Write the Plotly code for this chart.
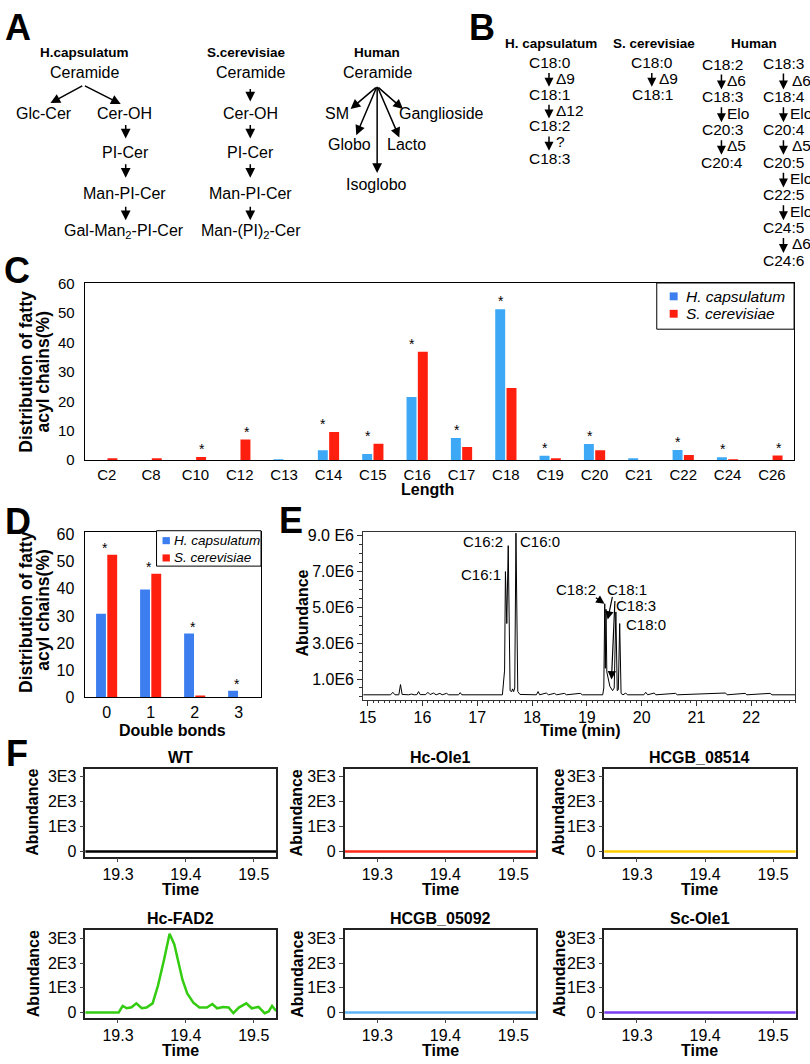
import plotly.graph_objects as go

W, H = 810, 1064
FONT = "Arial, 'Liberation Sans', sans-serif"

# ---------------- data ----------------
lengths = ["C2", "C8", "C10", "C12", "C13", "C14", "C15", "C16", "C17", "C18",
           "C19", "C20", "C21", "C22", "C24", "C26"]
hc_length = [0, 0, 0, 0, 0.1, 3.4, 2.1, 21.4, 7.5, 51.2, 1.5, 5.5, 0.5, 3.5, 1.0, 0]
sc_length = [0.4, 0.6, 1.1, 7.0, 0, 9.6, 5.6, 36.8, 4.5, 24.5, 0.7, 3.4, 0, 1.8, 0.2, 1.6]
length_sig = ["C10", "C12", "C14", "C15", "C16", "C17", "C18", "C19", "C20", "C22", "C24", "C26"]

bonds = ["0", "1", "2", "3"]
hc_bonds = [30.8, 39.8, 23.5, 2.4]
sc_bonds = [52.6, 45.6, 0.6, 0]
bonds_sig = ["0", "1", "2", "3"]

species = ["H. capsulatum", "S. cerevisiae"]

# GC chromatogram (abundance in units of 1E6)
gc_time = [14.92, 15.30, 15.42, 15.46, 15.50, 15.57, 15.60, 15.63, 15.75, 15.80, 15.85,
           15.90, 15.93, 15.96, 16.06, 16.10, 16.14, 16.20, 16.25, 16.32, 16.36, 16.44,
           16.48, 16.66, 16.69, 16.72, 17.46, 17.50, 17.515, 17.54, 17.566, 17.60, 17.63,
           17.645, 17.665, 17.685, 17.707, 17.74, 17.78, 18.08, 18.11, 18.14, 18.26, 18.30,
           18.41, 18.45, 18.59, 18.63, 18.88, 18.92, 19.29, 19.31, 19.327, 19.338, 19.35,
           19.365, 19.39, 19.42, 19.47, 19.50, 19.53, 19.555, 19.575, 19.60, 19.625, 19.66,
           19.71, 19.74, 20.04, 20.075, 20.11, 20.23, 20.26, 20.62, 20.65, 21.53, 21.56,
           21.89, 21.92, 22.345, 22.38, 22.80]
gc_abund = [0.12, 0.12, 0.12, 0.26, 0.12, 0.12, 0.69, 0.14, 0.12, 0.16, 0.12,
            0.13, 0.30, 0.13, 0.13, 0.26, 0.13, 0.22, 0.12, 0.20, 0.12, 0.20,
            0.12, 0.12, 0.24, 0.12, 0.12, 1.5, 7.0, 4.1, 8.45, 0.35, 0.30,
            0.45, 0.30, 0.5, 9.15, 0.3, 0.14, 0.12, 0.30, 0.12, 0.22, 0.12,
            0.20, 0.12, 0.20, 0.12, 0.20, 0.12, 0.12, 0.5, 5.2, 1.6, 4.9,
            1.4, 1.0, 0.6, 0.35, 0.5, 4.75, 0.35, 0.4, 4.1, 0.2, 0.12,
            0.22, 0.12, 0.12, 0.26, 0.12, 0.22, 0.12, 0.20, 0.12, 0.22, 0.12,
            0.20, 0.12, 0.20, 0.12, 0.12]
e_ticks = [1, 3, 5, 7, 9]
e_ticktext = ["1.0E6", "3.0E6", "5.0E6", "7.0E6", "9.0 E6"]

strains = ["WT", "Hc-Ole1", "HCGB_08514", "Hc-FAD2", "HCGB_05092", "Sc-Ole1"]
strain_colors = ["#000000", "#ff2a1a", "#ffcc00", "#33cc11", "#5fb4f5", "#7a3cf0"]
flat_time = [19.25, 19.54]
flat_abund = [0, 0]
fad2_time = [19.25, 19.301, 19.307, 19.313, 19.320, 19.327, 19.335, 19.342, 19.351, 19.359,
             19.368, 19.376, 19.383, 19.389, 19.395, 19.402, 19.411, 19.420, 19.431, 19.439,
             19.446, 19.455, 19.463, 19.470, 19.478, 19.489, 19.497, 19.507, 19.516, 19.522,
             19.527, 19.533]
fad2_abund = [0, 0, 265, 170, 210, 370, 170, 200, 370, 1100,
              2160, 3200, 2760, 2030, 1330, 770, 400, 200, 200, 345,
              170, 225, 200, -30, 200, 370, 170, 225, -30, 40,
              265, 65]
f_ticks = [0, 1000, 2000, 3000]
f_ticktext = ["0", "1E3", "2E3", "3E3"]

# ---------------- helpers ----------------
def X(px):
    return px / W


def Y(py):
    return 1 - py / H


ann = []
shapes = []


def txt(s, x, y, size=16, bold=False, italic=False, xanchor="center", yanchor="middle", angle=0):
    ann.append(dict(text=s, x=X(x), y=Y(y), xref="paper", yref="paper", showarrow=False,
                    xanchor=xanchor, yanchor=yanchor, textangle=angle,
                    font=dict(size=size, family=FONT, color="black",
                              weight="bold" if bold else "normal",
                              style="italic" if italic else "normal")))


def arr(x0, y0, x1, y1, w=1.5, size=1.0, head=2):
    ann.append(dict(x=X(x1), y=Y(y1), xref="paper", yref="paper",
                    ax=x0 - x1, ay=y0 - y1, axref="pixel", ayref="pixel",
                    text="", showarrow=True, arrowhead=head, arrowsize=size,
                    arrowwidth=w, arrowcolor="black", standoff=0, startstandoff=0))


def rect(x0, y0, x1, y1, fill, line_color=None, lw=0):
    shapes.append(dict(type="rect", xref="paper", yref="paper",
                       x0=X(x0), x1=X(x1), y0=Y(y1), y1=Y(y0),
                       fillcolor=fill,
                       line=dict(color=line_color or fill, width=lw)))


def box_axis(**kw):
    base = dict(showline=True, mirror=True, linecolor="black", linewidth=1,
                showgrid=False, zeroline=False, ticks="",
                tickfont=dict(size=15, family=FONT, color="black"))
    base.update(kw)
    return base


fig = go.Figure()

# ---------------- panel C ----------------
C_BLUE = "#3da8f5"
D_BLUE = "#3c7ef0"
RED = "#ff1f0f"
fig.add_trace(go.Bar(x=lengths, y=hc_length, name=species[0], marker_color=C_BLUE,
                     marker_line_width=0, xaxis="x", yaxis="y", showlegend=False))
fig.add_trace(go.Bar(x=lengths, y=sc_length, name=species[1], marker_color=RED,
                     marker_line_width=0, xaxis="x", yaxis="y", showlegend=False))

for cat in length_sig:
    i = lengths.index(cat)
    top = max(hc_length[i], sc_length[i])
    ann.append(dict(text="*", x=cat, y=top, xref="x", yref="y", showarrow=False,
                    yanchor="bottom", xshift=(-5 if hc_length[i] > 0 else 7), yshift=-2,
                    font=dict(size=14, family=FONT, color="black")))

# legend of C (drawn as a key box)
rect(656, 278.7, 794, 325.7, "white", "black", 1)
rect(669, 288.3, 677, 296.3, D_BLUE)
rect(669, 306, 677, 314, RED)
txt(species[0], 683.5, 292.3, 15.5, italic=True, xanchor="left")
txt(species[1], 683.5, 310, 15.5, italic=True, xanchor="left")

# ---------------- panel D ----------------
fig.add_trace(go.Bar(x=bonds, y=hc_bonds, name=species[0], marker_color=D_BLUE,
                     marker_line_width=0, xaxis="x2", yaxis="y2", showlegend=False))
fig.add_trace(go.Bar(x=bonds, y=sc_bonds, name=species[1], marker_color=RED,
                     marker_line_width=0, xaxis="x2", yaxis="y2", showlegend=False))
for cat in bonds_sig:
    i = bonds.index(cat)
    top = max(hc_bonds[i], sc_bonds[i])
    ann.append(dict(text="*", x=cat, y=top, xref="x2", yref="y2", showarrow=False,
                    yanchor="bottom", xshift=-2, yshift=-3,
                    font=dict(size=14, family=FONT, color="black")))

rect(153.3, 530.7, 258.3, 566.7, "white", "black", 1)
rect(159.3, 537.2, 166.7, 544.4, D_BLUE)
rect(159.3, 554.8, 166.7, 562, RED)
txt(species[0], 168.8, 540.7, 13.5, italic=True, xanchor="left")
txt(species[1], 168.8, 558.3, 13.5, italic=True, xanchor="left")

# ---------------- panel E ----------------
fig.add_trace(go.Scatter(x=gc_time, y=gc_abund, mode="lines", line=dict(color="black", width=1),
                         xaxis="x3", yaxis="y3", showlegend=False))

# ---------------- panel F ----------------
f_cols = [(81.8, 273.5), (342.3, 534.5), (603.3, 795.5)]
f_rows = [(772.7, 862.3), (937.3, 1026.0)]
for k, name in enumerate(strains):
    ax_id = k + 4
    if name == "Hc-FAD2":
        tx, ty = fad2_time, fad2_abund
    else:
        tx, ty = flat_time, flat_abund
    fig.add_trace(go.Scatter(x=tx, y=ty, mode="lines", name=name,
                             line=dict(color=strain_colors[k], width=2.5),
                             xaxis=f"x{ax_id}", yaxis=f"y{ax_id}", showlegend=False))

# ---------------- layout axes ----------------
layout_axes = {}
layout_axes["xaxis"] = box_axis(domain=[X(81), X(794)], anchor="y", range=[-0.5, 15.5],
                                type="category", ticklabelstandoff=1)
layout_axes["yaxis"] = box_axis(domain=[Y(459), Y(279)], anchor="x", range=[0, 60],
                                tick0=0, dtick=10, ticklabelstandoff=6)
layout_axes["xaxis2"] = box_axis(domain=[X(81), X(258)], anchor="y2", range=[-0.5, 3.5],
                                 type="category", ticklabelstandoff=1,
                                 tickfont=dict(size=16, family=FONT, color="black"))
layout_axes["yaxis2"] = box_axis(domain=[Y(700), Y(532)], anchor="x2", range=[0, 61],
                                 tick0=0, dtick=10, ticklabelstandoff=6,
                                 tickfont=dict(size=16, family=FONT, color="black"))
layout_axes["xaxis3"] = box_axis(domain=[X(361), X(795)], anchor="y3", range=[14.92, 22.80],
                                 tick0=15, dtick=1, ticks="outside", ticklen=5, linecolor="#333",
                                 tickcolor="#333", ticklabelstandoff=-2,
                                 minor=dict(ticks="outside", ticklen=2, dtick=0.1, tick0=15,
                                            tickcolor="#333"),
                                 tickfont=dict(size=16, family=FONT, color="black"))
layout_axes["yaxis3"] = box_axis(domain=[Y(702.7), Y(531.5)], anchor="x3", range=[-0.16, 9.24],
                                 tickmode="array", tickvals=e_ticks, ticktext=e_ticktext,
                                 ticks="outside", ticklen=5, linecolor="#333", tickcolor="#333",
                                 minor=dict(ticks="outside", ticklen=3, dtick=0.5, tick0=0,
                                            tickmode="linear", tickcolor="#333"),
                                 tickfont=dict(size=16, family=FONT, color="black"))
for k in range(6):
    ax_id = k + 4
    c0, c1 = f_cols[k % 3]
    r0, r1 = f_rows[k // 3]
    layout_axes[f"xaxis{ax_id}"] = box_axis(domain=[X(c0), X(c1)], anchor=f"y{ax_id}",
                                            range=[19.252, 19.533], tickmode="array",
                                            tickvals=[19.3, 19.4, 19.5],
                                            ticktext=["19.3", "19.4", "19.5"],
                                            ticks="outside", ticklen=4, linewidth=1.5,
                                            linecolor="#222", ticklabelstandoff=-2,
                                            tickfont=dict(size=16, family=FONT, color="black"))
    layout_axes[f"yaxis{ax_id}"] = box_axis(domain=[Y(r1), Y(r0)], anchor=f"x{ax_id}",
                                            range=[-210, 3330], tickmode="array",
                                            tickvals=f_ticks, ticktext=f_ticktext,
                                            ticks="outside", ticklen=4, linewidth=1.5,
                                            linecolor="#222",
                                            tickfont=dict(size=16, family=FONT, color="black"))

# ---------------- panel A (diagram) ----------------
A_SIZE = 1.3
txt("A", 14.5, 19, 36, bold=True)
txt("H.capsulatum", 80.8, 44.3, 13.5, bold=True)
txt("Ceramide", 80.8, 64.3)
arr(80, 77.7, 46.7, 95.7, size=A_SIZE)
arr(80, 77.7, 117.3, 96.7, size=A_SIZE)
txt("Glc-Cer", 40, 106)
txt("Cer-OH", 121.3, 106)
arr(122.3, 116.7, 122.3, 131.7, size=A_SIZE)
txt("PI-Cer", 122.3, 145.7)
arr(122.3, 156.7, 122.3, 171.7, size=A_SIZE)
txt("Man-PI-Cer", 121, 187.3)
arr(122.3, 200, 122.3, 215, size=A_SIZE)
txt("Gal-Man<sub>2</sub>-PI-Cer", 121, 226.7)

txt("S.cerevisiae", 243.7, 44.3, 13.5, bold=True)
txt("Ceramide", 248, 64.3)
arr(247.5, 80, 247.5, 94, size=A_SIZE)
txt("Cer-OH", 248, 106)
arr(247.5, 116.7, 247.5, 131.7, size=A_SIZE)
txt("PI-Cer", 248, 145.7)
arr(247.5, 156.7, 247.5, 171.7, size=A_SIZE)
txt("Man-PI-Cer", 248, 187.3)
arr(247.5, 200, 247.5, 215, size=A_SIZE)
txt("Man-(PI)<sub>2</sub>-Cer", 248.3, 226.7)

txt("Human", 375, 44.3, 13.5, bold=True)
txt("Ceramide", 375, 64.3)
arr(375, 79, 348.3, 101.7, size=A_SIZE)
arr(375, 79, 354, 128.3, size=A_SIZE)
arr(375, 79, 375, 166.7, size=A_SIZE)
arr(375, 79, 397.3, 130.7, size=A_SIZE)
arr(375, 79, 401, 101.7, size=A_SIZE)
txt("SM", 334.7, 106)
txt("Globo", 347.5, 137.7)
txt("Lacto", 383.3, 137.7, xanchor="left")
txt("Isoglobo", 374.7, 179)
txt("Ganglioside", 395.3, 106, xanchor="left")

# ---------------- panel B (pathways) ----------------
txt("B", 480.8, 19, 36, bold=True)
txt("H. capsulatum", 550, 35, 13.5, bold=True)
txt("S. cerevisiae", 653.3, 35, 13.5, bold=True)
txt("Human", 753.8, 35, 13.5, bold=True)


def pathway(center, arrow_x, label_x, rows, mids, mid_labels, label_offsets=None):
    for r, s in rows:
        txt(s, center, r, 15.5)
    for i, m in enumerate(mids):
        r_a = rows[i][0]
        r_b = rows[i + 1][0]
        arr(arrow_x, r_a + 9.5, arrow_x, r_b - 7.5, w=1.5, size=1.2)
        lx = label_x if label_offsets is None else label_offsets[i]
        txt(mid_labels[i], lx, m, 15.5, xanchor="left")


pathway(548.3, 547.7, 552.5,
        [(54.3, "C18:0"), (86.7, "C18:1"), (119, "C18:2"), (151.7, "C18:3")],
        [70.7, 103.3, 135], ["Δ9", "Δ12", "?"])
pathway(651.5, 651, 655.9,
        [(54.3, "C18:0"), (86.7, "C18:1")],
        [70.7], ["Δ9"])
pathway(721.7, 721, 724.2,
        [(56, "C18:2"), (89.3, "C18:3"), (122.7, "C20:3"), (155.7, "C20:4")],
        [72.7, 106, 139.3], ["Δ6", "Elo", "Δ5"])
pathway(783.8, 783.3, 789.9,
        [(55, "C18:3"), (89.3, "C18:4"), (122.7, "C20:4"), (155.7, "C20:5"),
         (189, "C22:5"), (222.3, "C24:5"), (255.7, "C24:6")],
        [72.7, 106, 139.3, 172.3, 205.7, 239],
        ["Δ6", "Elo", "Δ5", "Elo", "Elo", "Δ6"],
        label_offsets=[789.9, 787.5, 789.9, 787.5, 787.5, 789.9])

# ---------------- panel C / D texts ----------------
txt("C", 13, 265.5, 36, bold=True)
txt("Distribution of fatty", 22, 369, 17.5, bold=True, angle=-90)
txt("acyl chains(%)", 39, 369, 17.5, bold=True, angle=-90)
txt("Length", 426, 489, 16, bold=True)

txt("D", 14, 521.5, 36, bold=True)
txt("Distribution of fatty", 22, 613.5, 17.5, bold=True, angle=-90)
txt("acyl chains(%)", 39.3, 611, 17.5, bold=True, angle=-90)
txt("Double bonds", 169.7, 734, 16, bold=True)

# ---------------- panel E texts ----------------
txt("E", 288, 520.5, 36, bold=True)
txt("Abundance", 300.5, 615, 16, bold=True, angle=-90)
txt("Time (min)", 579.5, 734, 16, bold=True)
txt("C16:2", 503, 541.7, 15, xanchor="right")
txt("C16:0", 516.3, 541.7, 15, xanchor="left")
txt("C16:1", 501.2, 575, 15, xanchor="right")
txt("C18:2", 553, 590, 15, xanchor="left")
txt("C18:1", 603.5, 590, 15, xanchor="left")
txt("C18:3", 612.7, 606.7, 15, xanchor="left")
txt("C18:0", 622.7, 626, 15, xanchor="left")
arr(593.3, 598, 603.5, 605, w=1.2, size=1.4)
arr(611.7, 597, 606.7, 621, w=1.2, size=1.4)
arr(614, 602, 610.5, 682, w=1.2, size=1.4)

# ---------------- panel F texts ----------------
txt("F", 13, 757, 36, bold=True)
title_y = [761.5, 925.5]
time_y = [895.5, 1059]
abund_x = [29.3, 294.2, 557.8]
for k, name in enumerate(strains):
    c0, c1 = f_cols[k % 3]
    r0, r1 = f_rows[k // 3]
    cx = (c0 + c1) / 2
    txt(name, cx, title_y[k // 3], 16, bold=True)
    txt("Time", cx, time_y[k // 3], 16, bold=True)
    txt("Abundance", abund_x[k % 3], (r0 + r1) / 2, 16, bold=True, angle=-90)

fig.update_layout(
    width=W, height=H, autosize=False,
    margin=dict(l=0, r=0, t=0, b=0, pad=0),
    paper_bgcolor="white", plot_bgcolor="white",
    font=dict(family=FONT, color="black"),
    barmode="group", bargap=0.49, bargroupgap=0.12,
    showlegend=False,
    annotations=ann,
    shapes=shapes,
    **layout_axes,
)

# remove the page's default body margin right after the plot call (runs synchronously)
PAGE_FIX = ("});\ndocument.documentElement.style.margin='0px';"
            "document.body.style.margin='0px';document.body.style.padding='0px';"
            "document.body.style.overflow='hidden';\n(function(){")

fig.write_html("out.html", config={"displayModeBar": False}, post_script=PAGE_FIX)
